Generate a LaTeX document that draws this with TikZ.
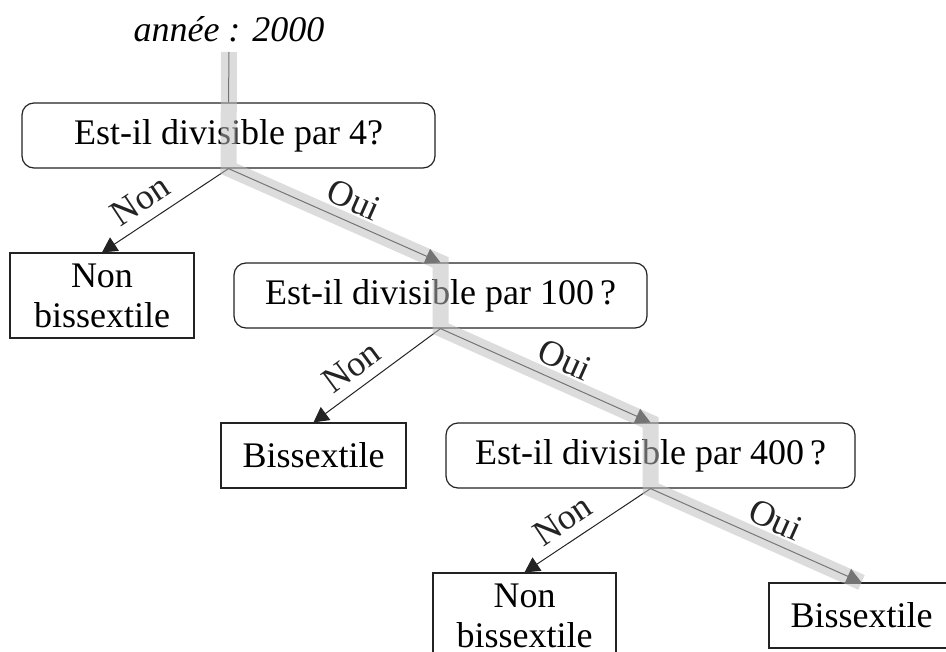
\documentclass[tikz,border=0pt]{standalone}
\usepackage{fontspec}
\setmainfont{Liberation Serif}
\usepackage{tikz}
\usetikzlibrary{arrows.meta,calc,positioning}
\definecolor{PathGray}{RGB}{189,189,189}
\definecolor{BoxLine}{RGB}{35,35,35}

\begin{document}
\begin{tikzpicture}[x=0.5pt,y=-0.5pt,>={Triangle[length=7.5pt,width=8pt]},
    font=\fontsize{18}{20}\selectfont,
    question/.style={draw=BoxLine,line width=0.6pt,rounded corners=6pt,fill=white,
      minimum width=206.5pt,minimum height=32.5pt,inner sep=0pt},
    answer/.style={draw=BoxLine,line width=0.6pt,fill=white,align=center,
      minimum width=92pt,minimum height=32.5pt,inner sep=0pt},
    branch/.style={->,line width=0.5pt,BoxLine},
    lbl/.style={sloped,above=1.5pt}]
      \useasboundingbox (0,0) rectangle (946,652);
      \clip (0,0) rectangle (946,652);
      % questions
      \node (title) at (229,29) {\itshape année : 2000};
      \coordinate (top) at (229,52);
      \node[question] (q1) at (228.5,135.5) {Est-il divisible par 4?};
      \node[question] (q2) at (440.5,295.5) {Est-il divisible par 100\,?};
      \node[question,minimum width=204.5pt] (q3) at (650.5,455.5) {Est-il divisible par 400\,?};
      % answers
      \node[answer,minimum height=42.5pt] (n1) at (102,295.5) {Non\\bissextile};
      \node[answer,minimum width=92.5pt] (b1) at (313.5,455.5) {Bissextile};
      \node[answer,minimum width=91.5pt,minimum height=42.5pt] (n2) at (524.5,615.5) {Non\\bissextile};
      \node[answer,minimum width=92.5pt] (b2) at (861.5,615.5) {Bissextile};
      % branches
      \draw[line width=0.5pt,BoxLine] (top) -- (q1.north);
      \draw[branch] (q1.south) -- (n1.north) node[lbl,pos=0.6]{Non};
      \draw[branch] (q1.south) -- (q2.north) node[lbl,pos=0.55]{Oui};
      \draw[branch] (q2.south) -- (b1.north) node[lbl,pos=0.6]{Non};
      \draw[branch] (q2.south) -- (q3.north) node[lbl,pos=0.55]{Oui};
      \draw[branch] (q3.south) -- (n2.north) node[lbl,pos=0.6]{Non};
      \draw[branch] (q3.south) -- (b2.north) node[lbl,pos=0.55]{Oui};
      % path followed by 2000
      \draw[PathGray,opacity=0.53,line width=8pt]
        (top) -- (q1.south) -- (q2.north) -- (q2.south) -- (q3.north) -- (q3.south) -- (b2.north);
    \end{tikzpicture}
\end{document}
